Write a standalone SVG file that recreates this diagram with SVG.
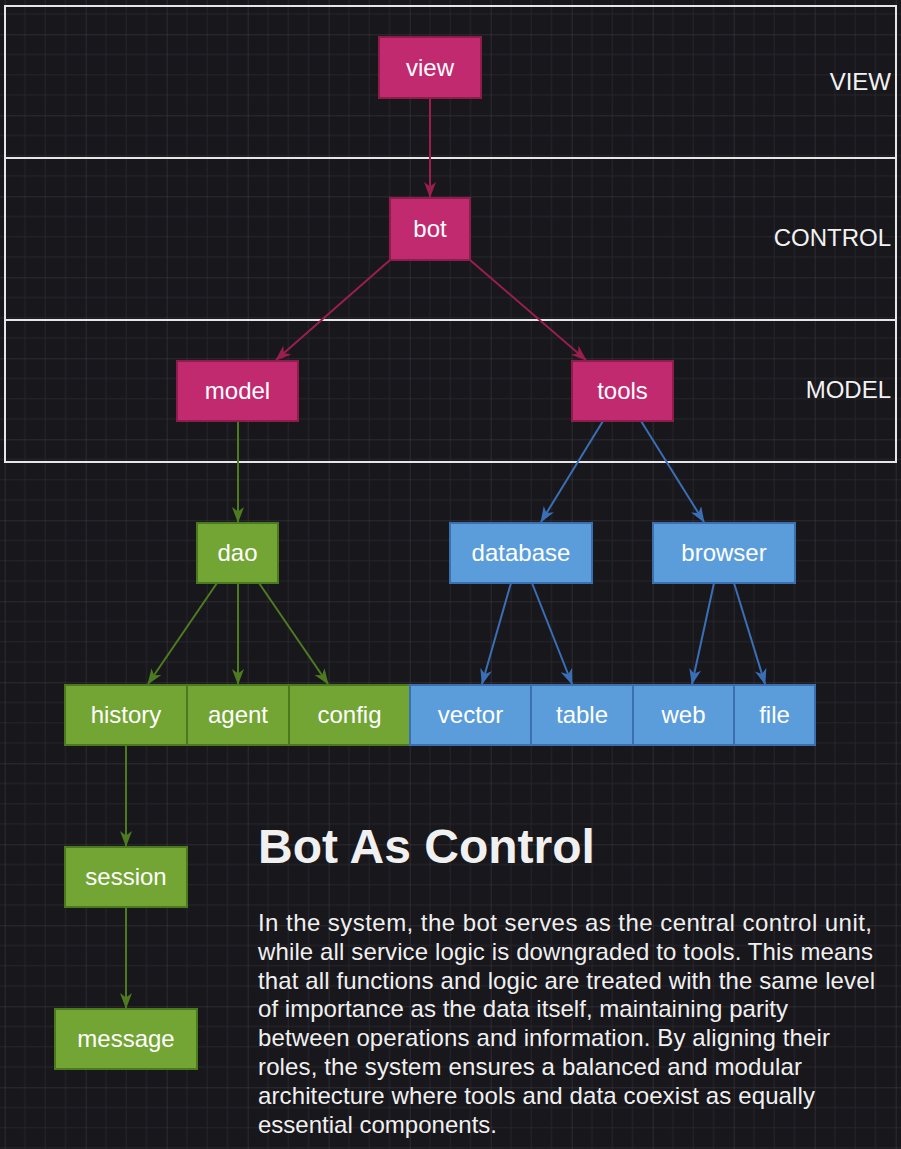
<svg xmlns="http://www.w3.org/2000/svg" width="901" height="1149" viewBox="0 0 901 1149">
<style>
.bg{fill:#18171c}
.lane{fill:none;stroke:#e6e6e6;stroke-width:2}
.lbl{font-family:"Liberation Sans",Arial,sans-serif;font-size:24px;fill:#f2f2f2}
.nt{font-family:"Liberation Sans",Arial,sans-serif;font-size:24px;fill:#ffffff;text-anchor:middle}
.pink{fill:#c22a70;stroke:#8e1d4b;stroke-width:2}
.green{fill:#73a534;stroke:#4b791e;stroke-width:2}
.blue{fill:#5b9ddb;stroke:#3b6fb0;stroke-width:2}
.ep{stroke:#9a1f4e;stroke-width:2;fill:none}
.eg{stroke:#4d7c20;stroke-width:2;fill:none}
.eb{stroke:#3a6fb5;stroke-width:2;fill:none}
.title{font-family:"Liberation Sans",Arial,sans-serif;font-size:48px;font-weight:bold;fill:#f0f0f0}
.para{font-family:"Liberation Sans",Arial,sans-serif;font-size:24px;fill:#f0f0f0}
</style>
<defs>
<pattern id="grid" patternUnits="userSpaceOnUse" x="4.7" y="34.3" width="81" height="81">
<path d="M20.25 0V81M40.5 0V81M60.75 0V81M0 20.25H81M0 40.5H81M0 60.75H81" stroke="#26252b" stroke-width="1" fill="none"/>
<path d="M0 0V81M0 0H81" stroke="#414045" stroke-width="1" fill="none"/>
</pattern>
<marker id="ap" viewBox="0 0 16 12" refX="15" refY="6" markerWidth="16" markerHeight="12" markerUnits="userSpaceOnUse" orient="auto"><path d="M0 0L16 6L0 12L4.5 6Z" fill="#9a1f4e"/></marker>
<marker id="ag" viewBox="0 0 16 12" refX="15" refY="6" markerWidth="16" markerHeight="12" markerUnits="userSpaceOnUse" orient="auto"><path d="M0 0L16 6L0 12L4.5 6Z" fill="#4d7c20"/></marker>
<marker id="ab" viewBox="0 0 16 12" refX="15" refY="6" markerWidth="16" markerHeight="12" markerUnits="userSpaceOnUse" orient="auto"><path d="M0 0L16 6L0 12L4.5 6Z" fill="#3a6fb5"/></marker>
</defs>
<rect class="bg" x="0" y="0" width="901" height="1149"/>
<rect x="0" y="0" width="901" height="1149" fill="url(#grid)"/>

<g id="lanes">
<rect class="lane" x="5" y="6" width="891" height="152"/>
<rect class="lane" x="5" y="158" width="891" height="162"/>
<rect class="lane" x="5" y="320" width="891" height="142"/>
<text class="lbl" x="891" y="90" text-anchor="end">VIEW</text>
<text class="lbl" x="891" y="246" text-anchor="end">CONTROL</text>
<text class="lbl" x="891" y="398" text-anchor="end">MODEL</text>
</g>

<g id="connectors">
<path class="ep" d="M430 98L430 197" marker-end="url(#ap)"/>
<path class="ep" d="M390 260L276 360" marker-end="url(#ap)"/>
<path class="ep" d="M470 260L586 360" marker-end="url(#ap)"/>
<path class="eg" d="M238 421L238 522" marker-end="url(#ag)"/>
<path class="eb" d="M603 421L541 522" marker-end="url(#ab)"/>
<path class="eb" d="M641 421L704 522" marker-end="url(#ab)"/>
<path class="eg" d="M217 583L148 684" marker-end="url(#ag)"/>
<path class="eg" d="M238 583L238 684" marker-end="url(#ag)"/>
<path class="eg" d="M259 583L328 684" marker-end="url(#ag)"/>
<path class="eb" d="M511 583L482 684" marker-end="url(#ab)"/>
<path class="eb" d="M532 583L572 684" marker-end="url(#ab)"/>
<path class="eb" d="M714 583L692 684" marker-end="url(#ab)"/>
<path class="eb" d="M734 583L765 684" marker-end="url(#ab)"/>
<path class="eg" d="M126 745L126 846" marker-end="url(#ag)"/>
<path class="eg" d="M126 907L126 1008" marker-end="url(#ag)"/>
</g>

<g id="view"><rect class="pink" x="379" y="37" width="102" height="61"/><text class="nt" x="430" y="75.5">view</text></g>
<g id="bot"><rect class="pink" x="390" y="198" width="80" height="62"/><text class="nt" x="430" y="237">bot</text></g>
<g id="model"><rect class="pink" x="177" y="361" width="121" height="60"/><text class="nt" x="237.5" y="399">model</text></g>
<g id="tools"><rect class="pink" x="572" y="361" width="101" height="60"/><text class="nt" x="622.5" y="399">tools</text></g>
<g id="dao"><rect class="green" x="197" y="523" width="81" height="60"/><text class="nt" x="237.5" y="561">dao</text></g>
<g id="database"><rect class="blue" x="450" y="523" width="142" height="60"/><text class="nt" x="521" y="561">database</text></g>
<g id="browser"><rect class="blue" x="653" y="523" width="142" height="60"/><text class="nt" x="724" y="561">browser</text></g>
<g id="history"><rect class="green" x="65" y="685" width="122" height="60"/><text class="nt" x="126" y="723">history</text></g>
<g id="agent"><rect class="green" x="187" y="685" width="102" height="60"/><text class="nt" x="238" y="723">agent</text></g>
<g id="config"><rect class="green" x="289" y="685" width="121" height="60"/><text class="nt" x="349.5" y="723">config</text></g>
<g id="vector"><rect class="blue" x="410" y="685" width="121" height="60"/><text class="nt" x="470.5" y="723">vector</text></g>
<g id="table"><rect class="blue" x="531" y="685" width="102" height="60"/><text class="nt" x="582" y="723">table</text></g>
<g id="web"><rect class="blue" x="633" y="685" width="101" height="60"/><text class="nt" x="683.5" y="723">web</text></g>
<g id="file"><rect class="blue" x="734" y="685" width="81" height="60"/><text class="nt" x="774.5" y="723">file</text></g>
<g id="session"><rect class="green" x="65" y="847" width="122" height="60"/><text class="nt" x="126" y="885">session</text></g>
<g id="message"><rect class="green" x="55" y="1009" width="142" height="60"/><text class="nt" x="126" y="1047">message</text></g>

<g id="description">
<text class="title" x="258" y="863">Bot As Control</text>
<text class="para" x="258" y="931" textLength="614" lengthAdjust="spacing">In the system, the bot serves as the central control unit,</text>
<text class="para" x="258" y="959.8" textLength="615" lengthAdjust="spacing">while all service logic is downgraded to tools. This means</text>
<text class="para" x="258" y="988.6" textLength="617" lengthAdjust="spacing">that all functions and logic are treated with the same level</text>
<text class="para" x="258" y="1017.4" textLength="530" lengthAdjust="spacing">of importance as the data itself, maintaining parity</text>
<text class="para" x="258" y="1046.2" textLength="572" lengthAdjust="spacing">between operations and information. By aligning their</text>
<text class="para" x="258" y="1075" textLength="544" lengthAdjust="spacing">roles, the system ensures a balanced and modular</text>
<text class="para" x="258" y="1103.8" textLength="557" lengthAdjust="spacing">architecture where tools and data coexist as equally</text>
<text class="para" x="258" y="1132.6" textLength="239" lengthAdjust="spacing">essential components.</text>
</g>
</svg>
